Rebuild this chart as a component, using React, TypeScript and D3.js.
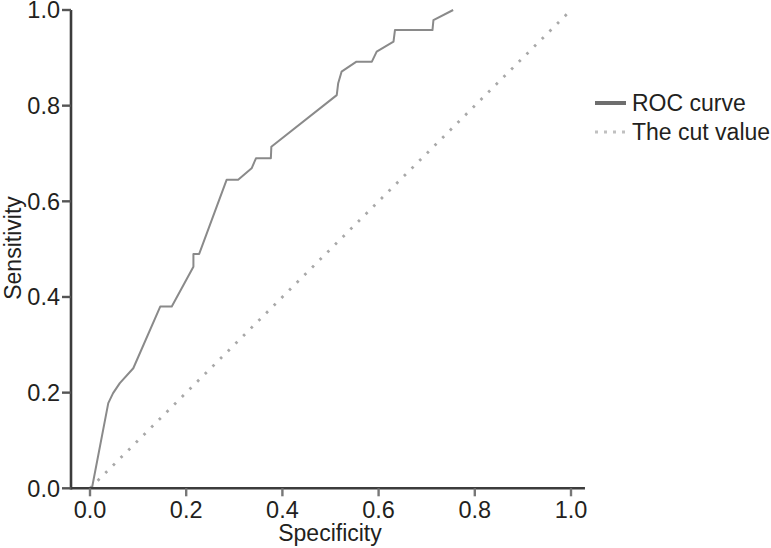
import React from "react";
import * as d3 from "d3";

const specificity = [0.004, 0.038, 0.048, 0.062, 0.09, 0.146, 0.17, 0.215, 0.215, 0.227, 0.284, 0.308, 0.336, 0.345, 0.376, 0.377, 0.513, 0.516, 0.523, 0.554, 0.586, 0.596, 0.631, 0.634, 0.712, 0.714, 0.755];
const sensitivity = [0.0, 0.178, 0.199, 0.22, 0.251, 0.38, 0.38, 0.463, 0.49, 0.49, 0.645, 0.645, 0.669, 0.69, 0.69, 0.714, 0.822, 0.847, 0.871, 0.892, 0.892, 0.913, 0.934, 0.958, 0.958, 0.979, 1.0];
const cutX = [0, 1];
const cutY = [0, 1];
const xTicks = [0, 0.2, 0.4, 0.6, 0.8, 1.0];
const yTicks = [0, 0.2, 0.4, 0.6, 0.8, 1.0];
const legendLabels = ["ROC curve", "The cut value"];

const W = 771;
const H = 548;
const FONT = "'Liberation Sans', Arial, Helvetica, sans-serif";

export default function App() {
  const x = d3.scaleLinear().domain([0, 1]).range([90, 571]);
  const y = d3.scaleLinear().domain([0, 1]).range([488.3, 10]);
  const axisLeft = 71;
  const axisRight = x(1.029);

  const line = d3
    .line<[number, number]>()
    .x((d) => x(d[0]))
    .y((d) => y(d[1]));

  const roc: [number, number][] = specificity.map((s, i) => [s, sensitivity[i]]);
  const cut: [number, number][] = cutX.map((s, i) => [s, cutY[i]]);

  return (
    <svg
      width={W}
      height={H}
      style={{ position: "absolute", left: 0, top: 0, background: "#fff" }}
      fontFamily={FONT}
    >
      {/* cut line */}
      <path d={line(cut) || ""} fill="none" stroke="#a8a8a8" strokeWidth={2.8} strokeDasharray="2.6 8.2" />
      {/* ROC */}
      <path d={line(roc) || ""} fill="none" stroke="#8a8a8a" strokeWidth={2} strokeLinejoin="round" />

      {/* axes */}
      <line x1={axisLeft} x2={axisLeft} y1={y(1)} y2={y(0) + 1.2} stroke="#3c3c3c" strokeWidth={2.6} />
      <line x1={axisLeft} x2={axisRight} y1={y(0)} y2={y(0)} stroke="#3c3c3c" strokeWidth={2.6} />
      {yTicks.map((t) => (
        <g key={"y" + t}>
          <line x1={62} x2={axisLeft} y1={y(t)} y2={y(t)} stroke="#555" strokeWidth={2.4} />
          <text x={60} y={y(t)} dy="0.36em" textAnchor="end" fontSize={23.5} fill="#231f20">
            {t.toFixed(1)}
          </text>
        </g>
      ))}
      {xTicks.map((t) => (
        <g key={"x" + t}>
          <line x1={x(t)} x2={x(t)} y1={y(0)} y2={y(0) + 8} stroke="#777" strokeWidth={2.4} />
          <text x={x(t)} y={518} textAnchor="middle" fontSize={23.5} fill="#231f20">
            {t.toFixed(1)}
          </text>
        </g>
      ))}
      <text x={330} y={541} textAnchor="middle" fontSize={23} fill="#231f20">
        Specificity
      </text>
      <text transform={`translate(21,248) rotate(-90)`} textAnchor="middle" fontSize={23} fill="#231f20">
        Sensitivity
      </text>

      {/* legend */}
      <line x1={595} x2={626} y1={103} y2={103} stroke="#6e6e6e" strokeWidth={4} />
      <text x={632} y={111} fontSize={23} fill="#231f20">
        {legendLabels[0]}
      </text>
      <line x1={595} x2={626} y1={132} y2={132} stroke="#c0c0c0" strokeWidth={3} strokeDasharray="3 6" />
      <text x={632} y={140} fontSize={23} fill="#231f20">
        {legendLabels[1]}
      </text>
    </svg>
  );
}
